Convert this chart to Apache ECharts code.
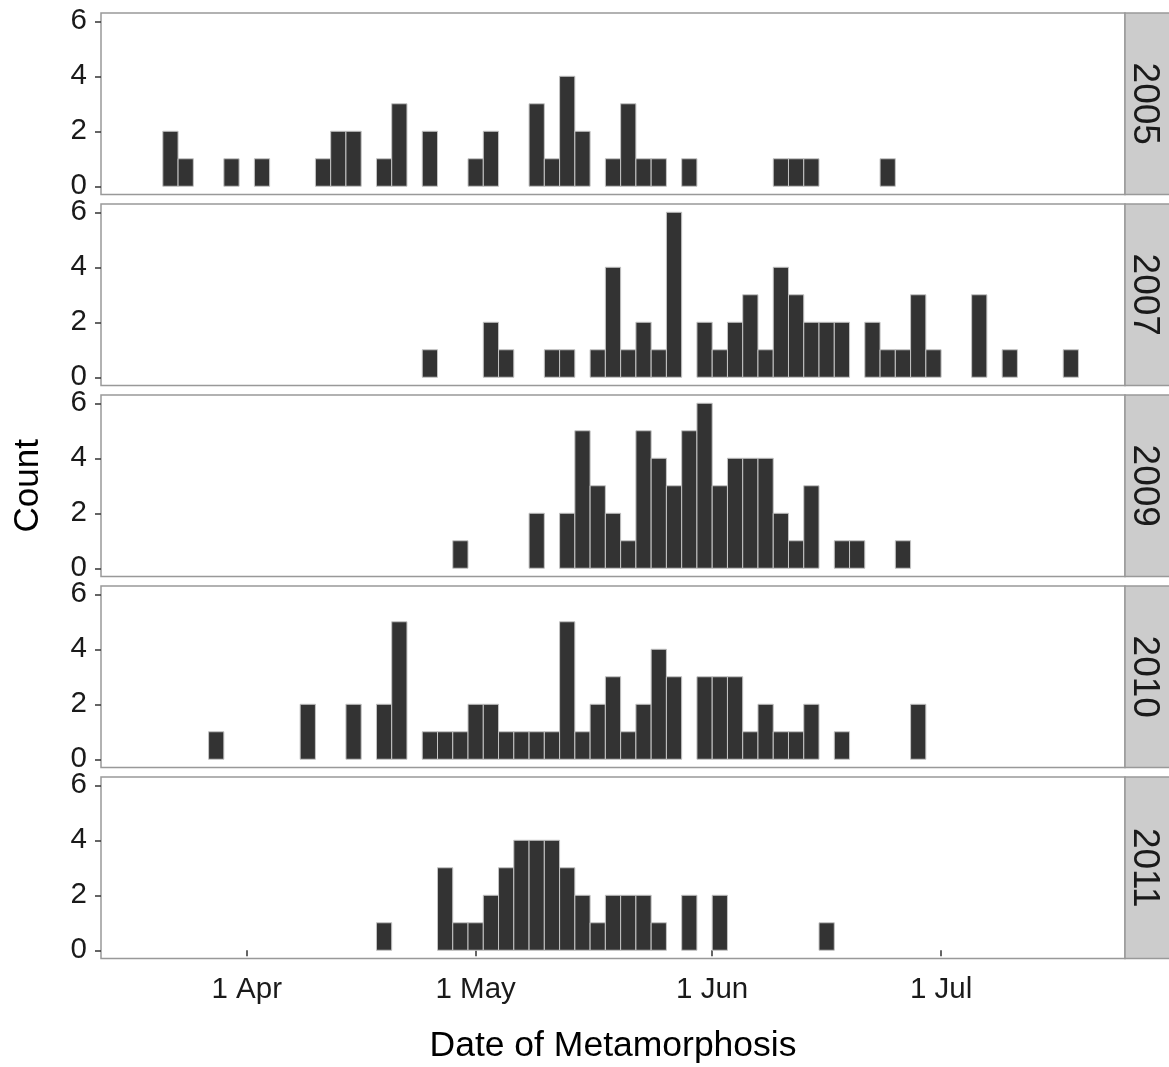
<!DOCTYPE html>
<html>
<head>
<meta charset="utf-8">
<title>Date of Metamorphosis</title>
<script src="https://cdn.jsdelivr.net/npm/echarts@6.0.0/dist/echarts.min.js"></script>
<style>
  html, body { margin: 0; padding: 0; background: #fff; }
  #main { width: 1169px; height: 1067px; }
</style>
</head>
<body>
<div id="main"></div>
<script>
  // facet years (one panel each)
  var years = ['2005', '2007', '2009', '2010', '2011'];
  // histogram bins: first bin starts at day-of-year 78 (19 Mar), 2 days wide, 61 bins
  var binStart = 78;
  var binWidth = 2;
  var counts2005 = [0,2,1,0,0,1,0,1,0,0, 0,1,2,2,0,1,3,0,2,0, 0,1,2,0,0,3,1,4,2,0, 1,3,1,1,0,1,0,0,0,0, 0,1,1,1,0,0,0,0,1,0, 0,0,0,0,0,0,0,0,0,0, 0];
  var counts2007 = [0,0,0,0,0,0,0,0,0,0, 0,0,0,0,0,0,0,0,1,0, 0,0,2,1,0,0,1,1,0,1, 4,1,2,1,6,0,2,1,2,3, 1,4,3,2,2,2,0,2,1,1, 3,1,0,0,3,0,1,0,0,0, 1];
  var counts2009 = [0,0,0,0,0,0,0,0,0,0, 0,0,0,0,0,0,0,0,0,0, 1,0,0,0,0,2,0,2,5,3, 2,1,5,4,3,5,6,3,4,4, 4,2,1,3,0,1,1,0,0,1, 0,0,0,0,0,0,0,0,0,0, 0];
  var counts2010 = [0,0,0,0,1,0,0,0,0,0, 2,0,0,2,0,2,5,0,1,1, 1,2,2,1,1,1,1,5,1,2, 3,1,2,4,3,0,3,3,3,1, 2,1,1,2,0,1,0,0,0,0, 2,0,0,0,0,0,0,0,0,0, 0];
  var counts2011 = [0,0,0,0,0,0,0,0,0,0, 0,0,0,0,0,1,0,0,0,3, 1,1,2,3,4,4,4,3,2,1, 2,2,2,1,0,2,0,2,0,0, 0,0,0,0,1,0,0,0,0,0, 0,0,0,0,0,0,0,0,0,0, 0];
  var allCounts = [counts2005, counts2007, counts2009, counts2010, counts2011];
  // x axis ticks (day-of-year) and labels
  var tickDays = [91, 121, 152, 182];
  var tickLabels = ['1 Apr', '1 May', '1 Jun', '1 Jul'];
  // y axis ticks
  var countTicks = [0, 2, 4, 6];

  function chart_init() {
  var myChart = echarts.init(document.getElementById('main'));
  var font = '"Liberation Sans", Arial, sans-serif';
  var grids = [], xAxes = [], yAxes = [], series = [], graphics = [];
  var panelTop = 13, panelH = 181.5, panelStep = 191;
  var left = 101, right = 44;

  for (var k = 0; k < years.length; k++) {
  var top = panelTop + panelStep * k;
  var last = (k === years.length - 1);
  grids.push({
  left: left, right: right, top: top, height: panelH,
  show: true, backgroundColor: '#fff', borderColor: '#999', borderWidth: 1.5
  });
  xAxes.push({
  type: 'value', gridIndex: k, min: 71.9, max: 206.1,
  axisLine: { show: false },
  splitLine: { show: false },
  axisTick: { show: last, customValues: tickDays, length: 6, lineStyle: { color: '#333', width: 1.5 } },
  axisLabel: {
  show: last, customValues: tickDays, margin: 16,
  fontFamily: font, fontSize: 29.5, color: '#1a1a1a',
  formatter: function (v) { return tickLabels[tickDays.indexOf(Math.round(v))]; }
  },
  name: last ? 'Date of Metamorphosis' : '',
  nameLocation: 'middle', nameGap: 70,
  nameTextStyle: { fontFamily: font, fontSize: 35.5, color: '#000' }
  });
  yAxes.push({
  type: 'value', gridIndex: k, min: -0.3, max: 6.3,
  axisLine: { show: false },
  splitLine: { show: false },
  axisTick: { show: true, customValues: countTicks, length: 6, lineStyle: { color: '#333', width: 1.5 } },
  axisLabel: { customValues: countTicks, margin: 14, fontFamily: font, fontSize: 29.5, color: '#1a1a1a' },
  name: k === 2 ? 'Count' : '',
  nameLocation: 'middle', nameGap: 55, nameRotate: 90,
  nameTextStyle: { fontFamily: font, fontSize: 35, color: '#000' }
  });

  //直方图数据
  var data = [];
  var c = allCounts[k];
  for (var i = 0; i < c.length; i++) {
  if (c[i] > 0) {
  data.push([binStart + binWidth * i, binStart + binWidth * (i + 1), c[i]]);
  }
  }
  series.push({
  type: 'custom', name: years[k], xAxisIndex: k, yAxisIndex: k,
  encode: { x: [0, 1], y: 2 },
  data: data,
  renderItem: function (params, api) {
  var p0 = api.coord([api.value(0), api.value(2)]);
  var p1 = api.coord([api.value(1), 0]);
  return {
  type: 'rect',
  shape: { x: p0[0], y: p0[1], width: p1[0] - p0[0], height: p1[1] - p0[1] },
  style: { fill: '#333333', stroke: '#c4c4c4', lineWidth: 1 }
  };
  }
  });

  // facet strip on the right
  graphics.push({
  type: 'rect',
  shape: { x: 1169 - right, y: top, width: right + 4, height: panelH },
  style: { fill: '#cccccc', stroke: '#999', lineWidth: 1.5 }
  });
  graphics.push({
  type: 'text',
  x: 1144, y: top + panelH / 2,
  rotation: -Math.PI / 2,
  style: {
  text: years[k], fill: '#1a1a1a',
  font: '37px ' + font,
  textAlign: 'center', textVerticalAlign: 'middle'
  }
  });
  }

  var option = {
  animation: false,
  backgroundColor: '#fff',
  grid: grids,
  xAxis: xAxes,
  yAxis: yAxes,
  series: series,
  graphic: graphics
  };
  myChart.setOption(option, true);
  }

  chart_init();
</script>
</body>
</html>
